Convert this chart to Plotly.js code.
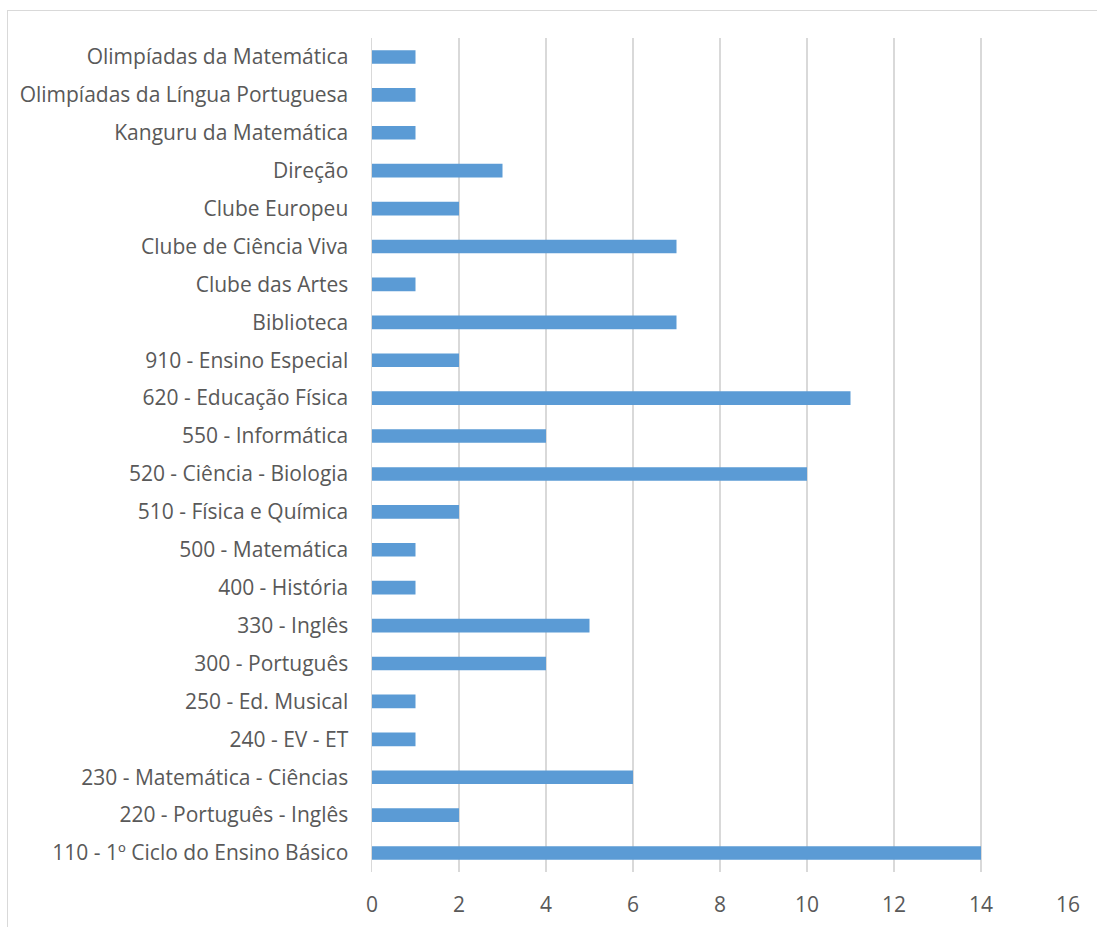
<!DOCTYPE html>
<html>
<head>
<meta charset="utf-8">
<script src="https://cdn.plot.ly/plotly-3.0.1.min.js"></script>
<style>
html,body{margin:0;padding:0;background:#fff;overflow:hidden;}
#chart{width:1097px;height:927px;position:absolute;left:0;top:0;}
#frame{position:absolute;left:7px;top:10px;width:1200px;height:1000px;border:1.5px solid #d9d9d9;pointer-events:none;}
</style>
</head>
<body>
<div id="chart"></div>
<div id="frame"></div>
<script>
const categories = [
  "110 - 1º Ciclo do Ensino Básico",
  "220 - Português - Inglês",
  "230 - Matemática - Ciências",
  "240 - EV - ET",
  "250 - Ed. Musical",
  "300 - Português",
  "330 - Inglês",
  "400 - História",
  "500 - Matemática",
  "510 - Física e Química",
  "520 - Ciência - Biologia",
  "550 - Informática",
  "620 - Educação Física",
  "910 - Ensino Especial",
  "Biblioteca",
  "Clube das Artes",
  "Clube de Ciência Viva",
  "Clube Europeu",
  "Direção",
  "Kanguru da Matemática",
  "Olimpíadas da Língua Portuguesa",
  "Olimpíadas da Matemática"
];
const values = [14, 2, 6, 1, 1, 4, 5, 1, 1, 2, 10, 4, 11, 2, 7, 1, 7, 2, 3, 1, 1, 1];
const xTicks = [0, 2, 4, 6, 8, 10, 12, 14, 16];

const trace = {
  type: 'bar',
  orientation: 'h',
  y: categories,
  x: values,
  width: 0.36,
  marker: {color: '#5B9BD5'},
  hoverinfo: 'x+y'
};

const layout = {
  width: 1097,
  height: 927,
  margin: {l: 372, r: 29, t: 38, b: 55},
  paper_bgcolor: 'rgba(0,0,0,0)',
  plot_bgcolor: 'rgba(0,0,0,0)',
  showlegend: false,
  font: {family: 'Open Sans, sans-serif', color: '#595959', size: 21},
  xaxis: {
    range: [0, 16],
    tickvals: xTicks,
    ticktext: xTicks.map(String),
    showgrid: true,
    gridcolor: '#d9d9d9',
    gridwidth: 1.5,
    zeroline: false,
    showline: false,
    ticks: '',
    ticklabelstandoff: 18,
    tickfont: {size: 21, color: '#595959'},
    fixedrange: true
  },
  yaxis: {
    type: 'category',
    categoryorder: 'array',
    categoryarray: categories,
    showgrid: false,
    zeroline: false,
    showline: true,
    linecolor: '#d9d9d9',
    linewidth: 1.5,
    ticks: '',
    ticklabelstandoff: 18,
    tickfont: {size: 21, color: '#595959'},
    fixedrange: true
  }
};

Plotly.newPlot('chart', [trace], layout, {displayModeBar: false, staticPlot: true});
</script>
</body>
</html>
